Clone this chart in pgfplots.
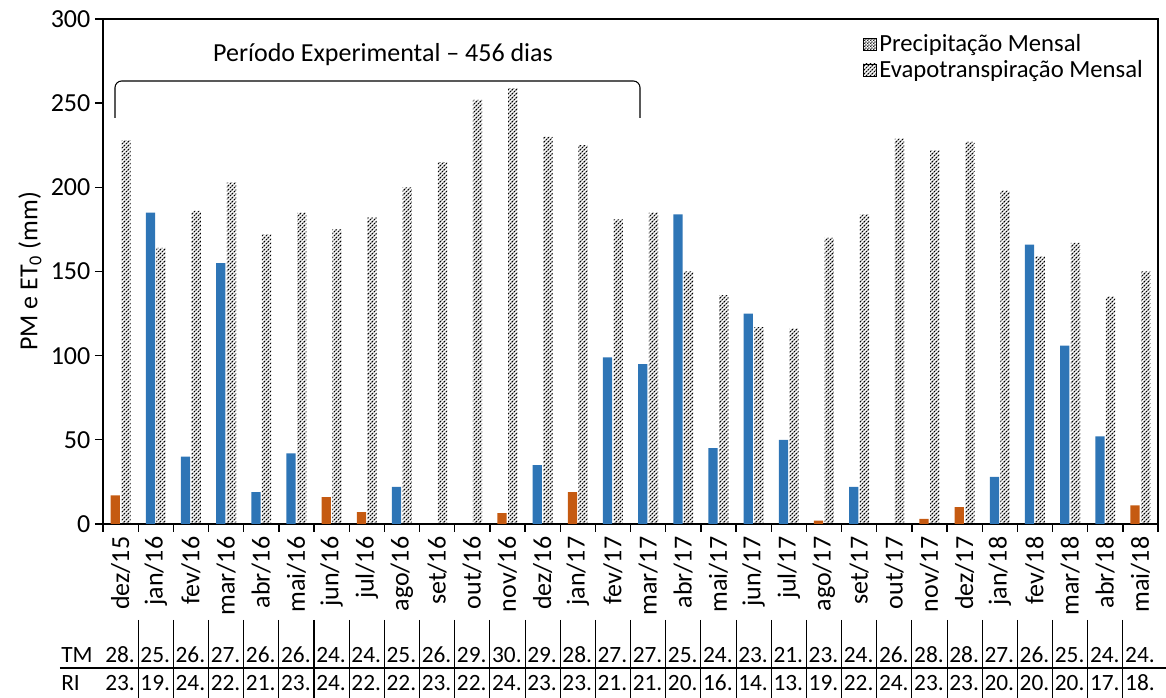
\documentclass[border=0pt]{standalone}
\usepackage{fontspec}
\setmainfont{Carlito}
\usepackage{pgfplots}
\pgfplotsset{compat=1.18}
\usetikzlibrary{patterns,calc}
\definecolor{pmblue}{HTML}{2E75B6}
\definecolor{pmorange}{HTML}{C55A11}
\newcommand{\fs}{\fontsize{19.5}{22}\selectfont}
\newcommand{\fl}{\fontsize{18.5}{21}\selectfont}
\newcommand{\ft}{\fontsize{17.5}{20}\selectfont}
\pgfdeclarepatternformonly{etlines}{\pgfqpoint{-1pt}{-1pt}}{\pgfqpoint{4pt}{4pt}}{\pgfqpoint{3pt}{3pt}}{%
  \pgfsetlinewidth{0.75pt}\pgfsetdash{{1.6pt}{0.6pt}}{0pt}%
  \pgfpathmoveto{\pgfqpoint{-0.2pt}{-0.2pt}}\pgfpathlineto{\pgfqpoint{3.2pt}{3.2pt}}\pgfusepath{stroke}}
\pgfdeclarepatternformonly{pmdots}{\pgfqpoint{0pt}{0pt}}{\pgfqpoint{2pt}{2pt}}{\pgfqpoint{2pt}{2pt}}{%
  \pgfpathrectangle{\pgfqpoint{0pt}{0pt}}{\pgfqpoint{1pt}{1pt}}\pgfpathrectangle{\pgfqpoint{1pt}{1pt}}{\pgfqpoint{1pt}{1pt}}\pgfusepath{fill}}
\begin{document}
\begin{tikzpicture}
\begin{axis}[
  scale only axis, width=791.25pt, height=378.75pt,
  ybar, bar width=6.9pt,
  xmin=-0.5, xmax=29.5, ymin=0, ymax=300,
  xtick={0,...,29},
  xticklabels={dez/15,jan/16,fev/16,mar/16,abr/16,mai/16,jun/16,jul/16,ago/16,set/16,out/16,nov/16,dez/16,jan/17,fev/17,mar/17,abr/17,mai/17,jun/17,jul/17,ago/17,set/17,out/17,nov/17,dez/17,jan/18,fev/18,mar/18,abr/18,mai/18},
  major x tick style={draw=none},
  minor xtick={-0.5,0.5,...,29.5},
  ytick={0,50,...,300},
  xtick pos=bottom, ytick pos=left,
  tick align=outside,
  major tick length=6pt, minor tick length=6pt,
  every tick/.style={black, line width=1pt},
  axis line style={line width=1pt},
  /pgf/number format/assume math mode=true,
  tick label style={font=\fs},
  xticklabel style={rotate=90, anchor=east},
  ylabel={PM e ET\textsubscript{0} (mm)},
  ylabel style={font=\fs, yshift=0pt},
  clip=false,
  legend style={draw=none, fill=none, font=\fl, at={(rel axis cs:0.72,0.975)}, anchor=north west, inner sep=0pt, row sep=1pt},
  legend cell align=left,
]
\addlegendimage{legend image code/.code={\fill[pattern=pmdots, pattern color=black!85] (0pt,-4.5pt) rectangle (10pt,4.5pt);}}
\addlegendentry{Precipitação Mensal}
\addlegendimage{legend image code/.code={\fill[pattern=etlines] (0pt,-4.5pt) rectangle (10pt,4.5pt);}}
\addlegendentry{Evapotranspiração Mensal}
% PM (blue)
\addplot[fill=pmblue, draw=none, bar shift=-4pt, forget plot] coordinates {
 (1,185) (2,40) (3,155) (4,19) (5,42) (8,22) (12,35) (14,99) (15,95) (16,184)
 (17,45) (18,125) (19,50) (21,22) (25,28) (26,166) (27,106) (28,52)};
% PM (orange)
\addplot[fill=pmorange, draw=none, bar shift=-4pt, forget plot] coordinates {
 (0,17) (6,16) (7,7) (11,6.5) (13,19) (20,2) (23,3) (24,10) (29,11)};
% ET0
\addplot[pattern=etlines, draw=none, bar shift=4pt, forget plot] coordinates {
 (0,228) (1,164) (2,186) (3,203) (4,172) (5,185) (6,175) (7,182) (8,200) (9,215)
 (10,252) (11,259) (12,230) (13,225) (14,181) (15,185) (16,150) (17,136) (18,117) (19,116)
 (20,170) (21,184) (22,229) (23,222) (24,227) (25,198) (26,159) (27,167) (28,135) (29,150)};
\coordinate (ll) at (rel axis cs:0,0);
\coordinate (ur) at (rel axis cs:1,1);
\end{axis}
\begin{scope}[shift={(ll)}, x=0.75pt, y=-0.75pt]
  % bracket and title
  \draw[line width=0.8pt, rounded corners=5pt] (12,-406) -- (12,-443) -- (537,-443) -- (537,-406);
  \node[font=\fs] at (280,-469) {Período Experimental – 456 dias};
  % data table
  \draw[line width=0.8pt] (-43,144) -- (1063,144);
  \foreach \i in {1,...,29} {\draw[line width=0.8pt] ({35.17*\i},96) -- ({35.17*\i},174);}
  \node[font=\ft, anchor=west, inner sep=0pt] at (-42,131) {TM};
  \node[font=\ft, anchor=west, inner sep=0pt] at (-42,159) {RI};
  \foreach \v [count=\i from 0] in {28,25,26,27,26,26,24,24,25,26,29,30,29,28,27,27,25,24,23,21,23,24,26,28,28,27,26,25,24,24}
    {\node[font=\ft, anchor=west, inner sep=0pt] at ({35.17*\i+2},131) {\v.};}
  \foreach \v [count=\i from 0] in {23,19,24,22,21,23,24,22,22,23,22,24,23,23,21,21,20,16,14,13,19,22,24,23,23,20,20,20,17,18}
    {\node[font=\ft, anchor=west, inner sep=0pt] at ({35.17*\i+2},159) {\v.};}
\end{scope}
\pgfresetboundingbox
\path ($(ll)+(-77.25pt,-130.5pt)$) rectangle ($(ur)+(6pt,14.25pt)$);
\end{tikzpicture}
\end{document}
